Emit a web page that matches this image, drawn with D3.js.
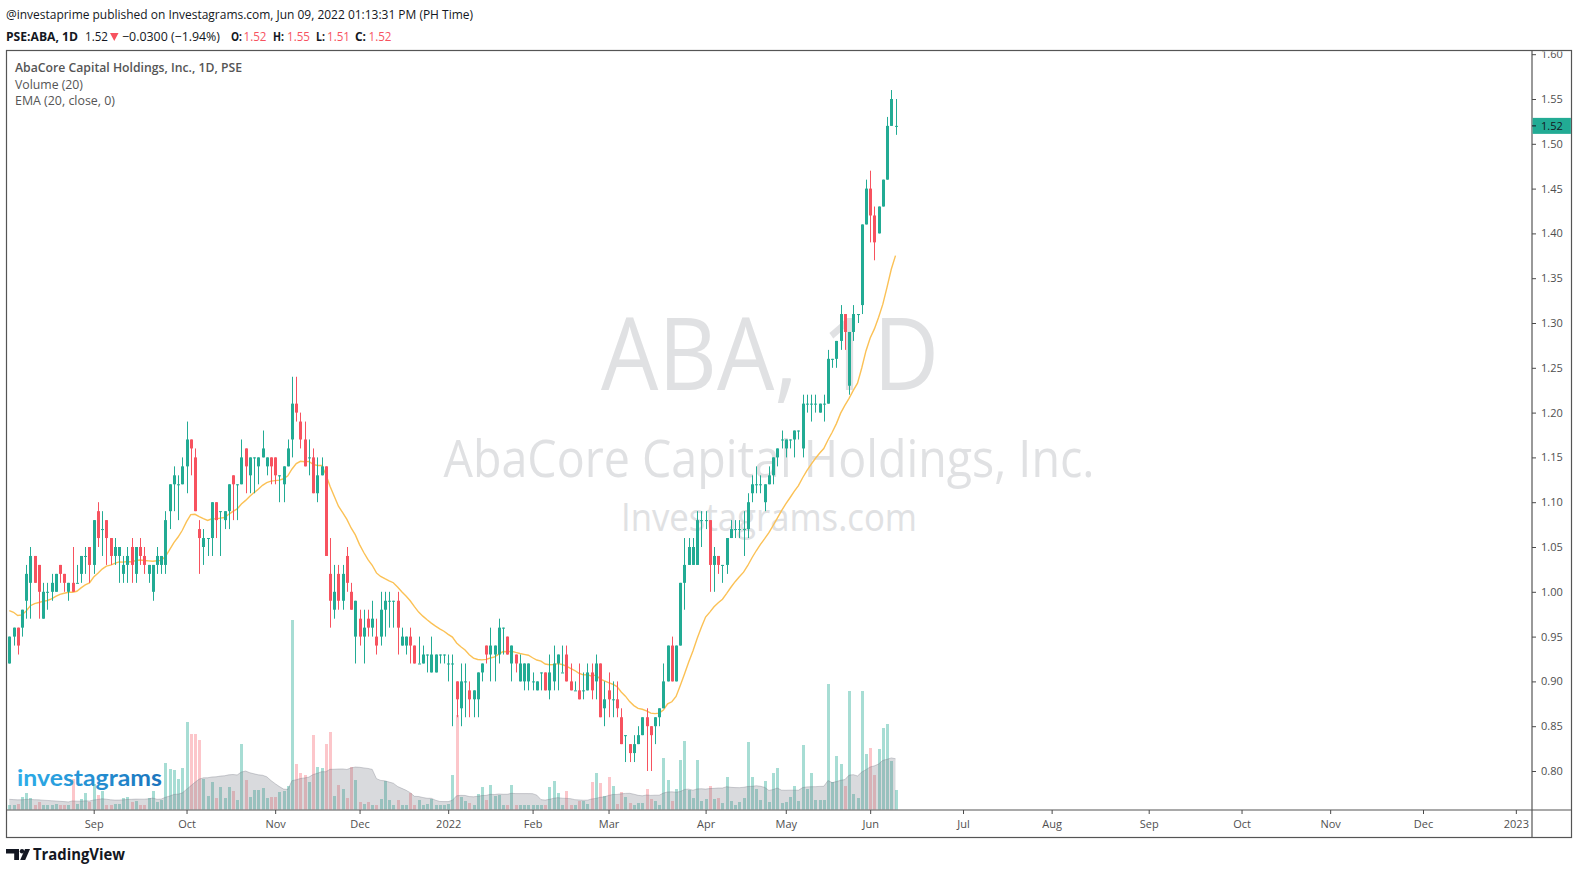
<!DOCTYPE html>
<html>
<head>
<meta charset="utf-8">
<script src="https://cdn.jsdelivr.net/npm/d3@7"></script>
<style>
body{margin:0;background:#fff;}
svg{display:block;font-family:"Open Sans","Noto Sans",sans-serif;}
</style>
</head>
<body>
<svg id="chart" width="1579" height="874"></svg>
<script>
(function(){

// ---- data (daily bars, Aug 3 2021 .. Jun 9 2022) ----
var opens = [
 .92,.95,.96,.96,.99,1.01,1.04,1.03,.97,1.00,
 1.00,1.00,1.03,1.02,1.00,1.01,1.01,1.02,1.04,1.05,
 1.03,1.09,1.07,1.08,1.06,1.04,1.04,1.02,1.03,1.05,
 1.02,1.05,1.04,1.02,1.00,1.03,1.03,1.03,1.09,1.12,
 1.12,1.12,1.14,1.17,1.15,1.07,1.05,1.06,1.06,1.10,
 1.09,1.08,1.09,1.13,1.12,1.12,1.16,1.13,1.15,1.14,
 1.15,1.14,1.15,1.15,1.13,1.12,1.14,1.17,1.21,1.19,
 1.17,1.15,1.15,1.11,1.13,1.14,1.02,.98,1.02,.99,
 1.04,1.00,.95,.97,.95,.97,.96,.95,.95,.98,
 .99,.99,.99,.94,.94,.95,.94,.92,.92,.93,
 .91,.91,.93,.93,.92,.92,.90,.87,.90,.89,
 .88,.88,.91,.94,.93,.93,.93,.96,.95,.92,
 .93,.90,.90,.90,.90,.89,.91,.91,.89,.90,
 .92,.91,.93,.90,.89,.89,.89,.89,.91,.90,
 .92,.87,.89,.88,.88,.86,.84,.83,.82,.83,
 .84,.86,.85,.85,.86,.87,.90,.94,.90,.94,
 1.01,1.03,1.03,1.03,1.08,1.08,1.08,1.03,1.04,1.03,
 1.03,1.06,1.07,1.07,1.07,1.07,1.11,1.12,1.12,1.10,
 1.12,1.13,1.15,1.17,1.16,1.17,1.17,1.18,1.16,1.21,
 1.21,1.21,1.20,1.21,1.21,1.26,1.26,1.28,1.31,1.23,
 1.29,1.31,1.32,1.41,1.45,1.42,1.40,1.43,1.46,1.52,1.52];

var highs = [
 .95,.96,.96,.98,1.03,1.05,1.04,1.03,1.01,1.01,
 1.02,1.02,1.03,1.02,1.01,1.05,1.03,1.04,1.05,1.05,
 1.08,1.10,1.09,1.08,1.06,1.06,1.05,1.04,1.05,1.06,
 1.05,1.06,1.05,1.03,1.03,1.05,1.04,1.09,1.12,1.14,
 1.13,1.15,1.19,1.17,1.16,1.08,1.07,1.06,1.10,1.10,
 1.09,1.09,1.12,1.13,1.12,1.17,1.16,1.15,1.15,1.15,
 1.18,1.15,1.15,1.15,1.13,1.14,1.17,1.24,1.24,1.20,
 1.19,1.17,1.16,1.15,1.15,1.14,1.06,1.03,1.03,1.03,
 1.05,1.01,.99,.98,.98,.98,.99,.97,1.00,1.00,
 1.00,.99,1.00,.96,.95,.96,.94,.95,.94,.93,
 .95,.93,.93,.93,.93,.93,.90,.92,.92,.90,
 .89,.91,.92,.94,.96,.94,.97,.96,.95,.94,
 .93,.93,.92,.92,.91,.90,.91,.91,.93,.94,
 .93,.94,.94,.92,.90,.92,.91,.92,.92,.93,
 .92,.90,.91,.90,.90,.87,.84,.83,.84,.85,
 .86,.87,.85,.86,.87,.92,.94,.95,.94,1.01,
 1.06,1.06,1.06,1.09,1.09,1.09,1.08,1.05,1.04,1.03,
 1.06,1.08,1.08,1.08,1.09,1.11,1.13,1.14,1.13,1.12,
 1.14,1.15,1.16,1.18,1.17,1.17,1.18,1.18,1.22,1.22,
 1.22,1.22,1.21,1.22,1.27,1.26,1.28,1.32,1.31,1.29,
 1.32,1.31,1.41,1.46,1.47,1.43,1.43,1.46,1.53,1.56,1.55];

var lows = [
 .92,.94,.93,.95,.97,.97,1.01,.97,.97,.98,
 .99,1.00,1.01,1.00,.99,1.00,1.01,1.01,1.02,1.01,
 1.02,1.05,1.04,1.03,1.03,1.03,1.01,1.01,1.01,1.01,
 1.01,1.03,1.02,1.01,.99,1.02,1.02,1.02,1.07,1.09,
 1.08,1.12,1.11,1.13,1.09,1.02,1.03,1.04,1.04,1.06,
 1.04,1.07,1.07,1.08,1.08,1.12,1.11,1.11,1.11,1.12,
 1.15,1.13,1.12,1.12,1.10,1.10,1.14,1.15,1.19,1.16,
 1.14,1.13,1.11,1.10,1.13,1.04,.96,.97,.98,.98,
 1.00,.98,.92,.94,.92,.95,.95,.93,.94,.95,
 .96,.96,.93,.94,.93,.92,.92,.92,.92,.91,
 .91,.91,.92,.92,.90,.85,.86,.85,.86,.86,
 .86,.86,.90,.92,.90,.90,.92,.93,.93,.90,
 .91,.90,.89,.89,.89,.89,.89,.89,.88,.89,
 .89,.91,.90,.89,.89,.88,.88,.89,.88,.88,
 .86,.85,.86,.86,.86,.83,.81,.81,.81,.83,
 .84,.80,.80,.83,.85,.87,.90,.90,.90,.94,
 .98,1.03,1.03,1.03,1.05,1.07,1.00,1.00,1.02,1.01,
 1.02,1.06,1.06,1.06,1.04,1.06,1.10,1.11,1.11,1.09,
 1.12,1.12,1.14,1.16,1.15,1.16,1.15,1.17,1.15,1.20,
 1.19,1.20,1.20,1.19,1.21,1.25,1.25,1.27,1.27,1.22,
 1.28,1.30,1.31,1.41,1.39,1.37,1.40,1.43,1.46,1.52,1.51];

var closes = [
 .95,.96,.94,.98,1.02,1.04,1.01,1.00,1.00,1.00,
 1.01,1.02,1.02,1.01,1.01,1.00,1.01,1.04,1.04,1.03,
 1.08,1.06,1.07,1.06,1.04,1.05,1.05,1.03,1.04,1.03,
 1.05,1.04,1.03,1.03,1.03,1.04,1.04,1.08,1.12,1.13,
 1.12,1.14,1.17,1.16,1.09,1.06,1.06,1.06,1.10,1.08,
 1.09,1.09,1.12,1.12,1.12,1.15,1.14,1.15,1.15,1.15,
 1.16,1.15,1.14,1.13,1.13,1.14,1.16,1.21,1.20,1.17,
 1.14,1.15,1.11,1.13,1.14,1.04,.99,1.00,.99,1.02,
 1.01,.98,.99,.95,.96,.96,.97,.94,.98,.99,
 .99,.99,.96,.95,.95,.94,.92,.92,.93,.93,
 .93,.93,.93,.93,.92,.92,.88,.90,.90,.88,
 .89,.91,.92,.93,.94,.94,.96,.96,.93,.94,
 .92,.92,.92,.92,.90,.90,.91,.89,.91,.92,
 .93,.91,.90,.89,.89,.88,.89,.91,.89,.92,
 .86,.88,.88,.88,.87,.83,.84,.82,.83,.84,
 .86,.85,.84,.86,.87,.90,.94,.90,.94,1.01,
 1.03,1.05,1.05,1.08,1.08,1.08,1.03,1.04,1.03,1.03,
 1.06,1.07,1.07,1.07,1.07,1.10,1.12,1.12,1.12,1.12,
 1.13,1.15,1.16,1.17,1.17,1.17,1.18,1.18,1.21,1.21,
 1.21,1.21,1.21,1.21,1.26,1.26,1.28,1.31,1.29,1.29,
 1.31,1.31,1.41,1.45,1.42,1.39,1.43,1.46,1.52,1.55,1.52];

// volume, millions of shares (estimated)
var volumes = [
 0.5,0.5,0.6,1.3,1.7,1.2,0.5,0.8,0.5,0.5,
 0.5,0.6,0.5,0.5,0.5,3.1,0.6,1.1,1.7,0.8,
 2.6,1.5,1.9,0.5,0.5,0.6,0.6,1.2,1.3,0.8,
 0.9,0.5,0.5,1.2,1.9,0.8,1.0,4.7,4.1,4.0,
 3.1,4.2,8.8,7.6,7.6,7.0,3.1,1.4,2.8,1.2,
 2.3,1.2,2.3,1.9,1.0,6.6,3.0,1.3,2.0,2.0,
 2.2,1.2,1.3,1.3,1.8,1.9,2.4,19.0,4.6,3.7,
 3.5,2.8,7.5,4.3,4.2,6.6,7.8,1.4,2.5,2.1,
 1.2,4.3,3.0,0.8,0.6,0.8,0.5,0.5,1.1,2.9,
 1.0,0.5,1.0,0.5,0.5,1.7,0.5,1.0,0.5,0.6,
 1.1,0.5,0.5,0.5,0.6,3.5,9.5,1.3,0.9,0.7,
 0.5,1.6,2.3,1.0,2.5,1.4,1.5,0.5,0.5,2.5,
 0.5,0.5,0.5,0.5,0.5,0.5,0.5,0.5,2.3,2.9,
 1.7,0.5,1.9,0.5,0.5,0.9,0.9,0.6,2.8,3.7,
 2.7,1.4,3.3,2.4,0.6,1.8,1.3,0.7,0.5,0.7,
 0.7,2.1,1.1,0.9,0.5,5.2,3.0,0.9,2.1,5.0,
 6.9,2.0,1.2,5.0,0.9,1.1,2.4,1.1,1.2,0.7,
 3.3,0.9,0.5,0.8,1.2,6.8,3.3,2.1,1.0,2.9,
 0.8,3.7,4.2,0.7,0.8,1.3,2.4,0.9,6.5,2.1,
 3.7,1.0,1.0,1.0,12.6,2.8,5.4,4.6,2.4,11.9,
 1.6,1.2,11.9,5.6,6.2,3.5,6.1,8.2,8.6,4.9,2.0];

var emaSeed = 0.982;   // EMA value before the first visible bar
var volMaSeed = 1.1;   // volume level before the first visible bar

var monthLabels = ["Sep","Oct","Nov","Dec","2022","Feb","Mar","Apr","May","Jun","Jul","Aug","Sep","Oct","Nov","Dec","2023"];
var monthIdx    = [20,42,63,83,104,124,142,165,184,204,226,247,270,292,313,335,357];
var priceTicks  = [0.80,0.85,0.90,0.95,1.00,1.05,1.10,1.15,1.20,1.25,1.30,1.35,1.40,1.45,1.50,1.55,1.60];
var lastPrice = 1.52;

var upCol = "#22ab94", downCol = "#f7525f";
var textCol = "#131722", axisCol = "#4a4a4a";

var svg = d3.select("#chart");

var plotL = 6.5, plotT = 50.5, plotR = 1532, plotB = 810, outR = 1571.5, outB = 837.5;

var x = d3.scaleLinear().domain([0, 210]).range([9.3, 895.5]);
var y = d3.scaleLinear().domain([0.80, 1.55]).range([771, 99]);
var yv = d3.scaleLinear().domain([0, 20]).range([plotB, plotB - 200]);

var bars = opens.map(function(o, i){
	return {i:i, o:o, h:highs[i], l:lows[i], c:closes[i], v:volumes[i]};
});

// EMA(20, close)
var alpha = 2 / 21, e = emaSeed;
bars.forEach(function(d){ e = alpha * d.c + (1 - alpha) * e; d.ema = e; });

// SMA(20) of volume
bars.forEach(function(d, i){
	var s = 0;
	for (var k = i - 19; k <= i; k++) s += (k < 0 ? volMaSeed : volumes[k]);
	d.vma = s / 20;
});

var defs = svg.append("defs");
defs.append("clipPath").attr("id","plotclip")
	.append("rect").attr("x", plotL + 0.5).attr("y", plotT + 0.5)
	.attr("width", plotR - plotL - 1).attr("height", plotB - plotT - 1);

var grad = defs.append("linearGradient").attr("id","igrad")
	.attr("x1","0%").attr("x2","100%").attr("y1","0%").attr("y2","0%");
grad.append("stop").attr("offset","0%").attr("stop-color","#2eaee9");
grad.append("stop").attr("offset","100%").attr("stop-color","#1c74bd");

// ---- watermark ----
var wm = svg.append("g").style("fill","#e0e1e3");
wm.append("text").text("ABA, 1D").attr("x",770).attr("y",390)
	.attr("text-anchor","middle").style("font-size","100px")
	.attr("textLength",338).attr("lengthAdjust","spacingAndGlyphs");
wm.append("text").text("AbaCore Capital Holdings, Inc.").attr("x",769).attr("y",477)
	.attr("text-anchor","middle").style("font-size","51px")
	.attr("textLength",651).attr("lengthAdjust","spacingAndGlyphs");
wm.append("text").text("Investagrams.com").attr("x",769).attr("y",531)
	.attr("text-anchor","middle").style("font-size","38px")
	.attr("textLength",296).attr("lengthAdjust","spacingAndGlyphs");

var plot = svg.append("g").attr("clip-path","url(#plotclip)");

// ---- volume ----
plot.selectAll(".vol").data(bars).enter().append("rect")
	.attr("class","vol")
	.attr("x", function(d){ return Math.round(x(d.i)) - 1; })
	.attr("width", 3)
	.attr("y", function(d){ return yv(d.v); })
	.attr("height", function(d){ return plotB - yv(d.v); })
	.style("fill", function(d){ return d.c >= d.o ? "rgba(34,171,148,0.4)" : "rgba(247,82,95,0.33)"; });

plot.append("path").datum(bars)
	.attr("d", d3.area().x(function(d){ return x(d.i); }).y0(plotB).y1(function(d){ return yv(d.vma); }))
	.style("fill","rgba(120,123,134,0.28)");
plot.append("path").datum(bars)
	.attr("d", d3.line().x(function(d){ return x(d.i); }).y(function(d){ return yv(d.vma); }))
	.style("fill","none").style("stroke","rgba(120,123,134,0.35)").style("stroke-width",1);

// ---- logo over volume ----
svg.append("text").text("investagrams").attr("x",17).attr("y",786)
	.style("font-family","Lato, 'Open Sans', sans-serif")
	.style("font-weight","700").style("font-size","23px")
	.attr("textLength",145).attr("lengthAdjust","spacingAndGlyphs")
	.style("fill","url(#igrad)");

// ---- EMA ----
plot.append("path").datum(bars)
	.attr("d", d3.line().x(function(d){ return x(d.i); }).y(function(d){ return y(d.ema); }))
	.style("fill","none").style("stroke","#fbc155").style("stroke-width",1.4);

// ---- candles ----
var candle = plot.selectAll(".candle").data(bars).enter().append("g")
	.attr("class","candle")
	.style("fill", function(d){ return d.c >= d.o ? upCol : downCol; });

candle.append("rect")
	.attr("x", function(d){ return Math.round(x(d.i)); })
	.attr("width", 1)
	.attr("y", function(d){ return y(d.h); })
	.attr("height", function(d){ return Math.max(1, y(d.l) - y(d.h)); });

candle.append("rect")
	.attr("x", function(d){ return Math.round(x(d.i)) - 1; })
	.attr("width", 3)
	.attr("y", function(d){ return y(Math.max(d.o, d.c)); })
	.attr("height", function(d){ return Math.max(1, Math.abs(y(d.o) - y(d.c))); });

// ---- frame ----
var frame = svg.append("g").style("stroke","#555").style("fill","none").style("stroke-width",1.2);
frame.append("rect").attr("x",plotL).attr("y",plotT).attr("width",outR - plotL).attr("height",outB - plotT);
frame.append("line").attr("x1",plotL).attr("x2",outR).attr("y1",plotB).attr("y2",plotB);
frame.append("line").attr("x1",plotR).attr("x2",plotR).attr("y1",plotT).attr("y2",outB);

// ---- price axis (clip is in the group's own coordinates) ----
defs.append("clipPath").attr("id","axisclip")
	.append("rect").attr("x",0).attr("y",plotT + 1).attr("width",50).attr("height",plotB - plotT - 1);

var yAxis = svg.append("g")
	.attr("transform","translate(" + plotR + ",0)")
	.attr("clip-path","url(#axisclip)")
	.call(d3.axisRight(y).tickValues(priceTicks).tickSize(4).tickPadding(5).tickFormat(d3.format(".2f")));
yAxis.select(".domain").remove();
yAxis.selectAll("line").style("stroke",axisCol);
yAxis.selectAll("text").style("font-size","11px").style("fill","#4f4f4f")
	.style("font-family","'Open Sans',sans-serif");

// last price label
var pl = svg.append("g").attr("transform","translate(" + plotR + "," + y(lastPrice) + ")");
pl.append("rect").attr("x",0.6).attr("y",-8).attr("width",outR - plotR - 1.2).attr("height",16).style("fill",upCol);
pl.append("line").attr("x1",0).attr("x2",4).style("stroke",textCol);
pl.append("text").text(d3.format(".2f")(lastPrice)).attr("x",9).attr("dy","0.35em")
	.style("font-size","11px").style("fill",textCol);

// ---- time axis ----
var xAxis = svg.append("g").attr("transform","translate(0," + plotB + ")")
	.call(d3.axisBottom(x).tickValues(monthIdx).tickSize(4).tickPadding(6)
		.tickFormat(function(d, i){ return monthLabels[i]; }));
xAxis.select(".domain").remove();
xAxis.selectAll("line").style("stroke",axisCol);
xAxis.selectAll("text").style("font-size","11px").style("fill","#4f4f4f")
	.style("font-family","'Open Sans',sans-serif");

// ---- header ----
svg.append("text").text("@investaprime published on Investagrams.com, Jun 09, 2022 01:13:31 PM (PH Time)")
	.attr("x",6).attr("y",18.5).style("font-size","12px").style("fill",textCol)
	.attr("textLength",467).attr("lengthAdjust","spacingAndGlyphs");

var hdr = [
	{t:"PSE:ABA, 1D", x:6, w:72, b:true, col:textCol},
	{t:"1.52", x:85, w:23, b:false, col:textCol},
	{t:"\u22120.0300 (\u22121.94%)", x:122, w:98, b:false, col:textCol},
	{t:"O:", x:231, w:11, b:true, col:textCol},
	{t:"1.52", x:243.5, w:23, b:false, col:downCol},
	{t:"H:", x:273, w:11, b:true, col:textCol},
	{t:"1.55", x:287, w:23, b:false, col:downCol},
	{t:"L:", x:316, w:9, b:true, col:textCol},
	{t:"1.51", x:327, w:23, b:false, col:downCol},
	{t:"C:", x:355, w:11, b:true, col:textCol},
	{t:"1.52", x:368.5, w:23, b:false, col:downCol}
];
svg.selectAll(".hdr").data(hdr).enter().append("text").attr("class","hdr")
	.text(function(d){ return d.t; })
	.attr("x", function(d){ return d.x; }).attr("y", 40.5)
	.attr("textLength", function(d){ return d.w; }).attr("lengthAdjust","spacingAndGlyphs")
	.style("font-size","12.5px").style("font-weight", function(d){ return d.b ? "700" : "400"; })
	.style("fill", function(d){ return d.col; });
svg.append("path").attr("d","M110,33 L118.5,33 L114.25,41 Z").style("fill",downCol);

// ---- legend ----
var leg = svg.append("g").style("fill","#555").style("font-size","12.5px");
leg.append("text").text("AbaCore Capital Holdings, Inc., 1D, PSE").attr("x",15).attr("y",72)
	.style("font-weight","600").attr("textLength",227).attr("lengthAdjust","spacingAndGlyphs");
leg.append("text").text("Volume (20)").attr("x",15).attr("y",88.5)
	.attr("textLength",68).attr("lengthAdjust","spacingAndGlyphs");
leg.append("text").text("EMA (20, close, 0)").attr("x",15).attr("y",105)
	.attr("textLength",100).attr("lengthAdjust","spacingAndGlyphs");

// ---- TradingView footer ----
var tv = svg.append("g").style("fill",textCol);
tv.append("path").attr("d","M6,849 H19 V860 H14.2 V853.6 H6 Z");
tv.append("circle").attr("cx",22).attr("cy",851.2).attr("r",2.2);
tv.append("path").attr("d","M25,849 H30 L25.2,860 H20.2 Z");
tv.append("text").text("TradingView").attr("x",33).attr("y",860)
	.style("font-size","15.5px").style("font-weight","700")
	.attr("textLength",92).attr("lengthAdjust","spacingAndGlyphs");

})();
</script>
</body>
</html>
